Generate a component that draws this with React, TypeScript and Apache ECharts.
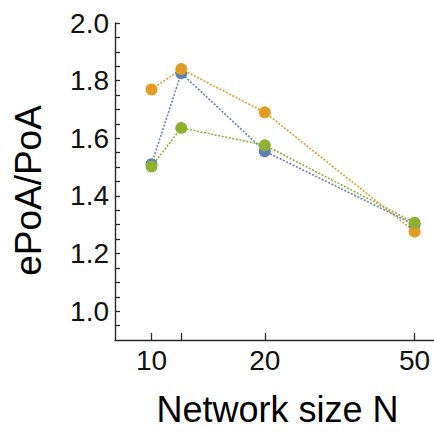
import React, { useEffect, useRef } from "react";
import * as echarts from "echarts";

const networkSizes = [10, 12, 20, 50];
const blueValues = [1.51, 1.826, 1.555, 1.30];
const orangeValues = [1.769, 1.84, 1.69, 1.276];
const greenValues = [1.502, 1.636, 1.576, 1.307];

const xTickValues = [10, 12, 20, 50];
const xLabelValues = [10, 20, 50];
const yLabelValues = [1.0, 1.2, 1.4, 1.6, 1.8, 2.0];
const yTickValues = [
  0.95, 1.0, 1.05, 1.1, 1.15, 1.2, 1.25, 1.3, 1.35, 1.4, 1.45, 1.5, 1.55,
  1.6, 1.65, 1.7, 1.75, 1.8, 1.85, 1.9, 1.95, 2.0,
];

const FONT = "'Liberation Sans', Arial, sans-serif";

function makeSeries(name: string, values: number[], color: string) {
  return {
    name,
    type: "line",
    data: networkSizes.map((n, i) => [n, values[i]]),
    symbol: "circle",
    symbolSize: 12,
    itemStyle: { color },
    lineStyle: { color, width: 1.6, type: [2, 1.6] },
    emphasis: { disabled: true },
  };
}

export default function App() {
  const ref = useRef<HTMLDivElement>(null);
  useEffect(() => {
    if (!ref.current) return;
    const chart = echarts.init(ref.current, null, { renderer: "svg" });
    chart.setOption({
      animation: false,
      backgroundColor: "#ffffff",
      grid: { left: 115, top: 23, width: 319, height: 328, containLabel: false },
      xAxis: {
        type: "log",
        logBase: 10,
        min: 8,
        max: 56.3,
        name: "Network size N",
        nameLocation: "middle",
        nameGap: 51,
        nameTextStyle: { fontSize: 36, color: "#000", fontFamily: FONT, padding: [0, 0, 0, 6] },
        axisLine: { show: true, lineStyle: { color: "#2a2a2a", width: 1.4 } },
        axisTick: {
          show: true,
          inside: true,
          length: 7,
          customValues: xTickValues,
          lineStyle: { color: "#2a2a2a", width: 1.3 },
        },
        axisLabel: {
          customValues: xLabelValues,
          fontSize: 28,
          color: "#111",
          fontFamily: FONT,
          margin: 6,
          formatter: (v: number) => String(Math.round(v)),
        },
        splitLine: { show: false },
        minorTick: { show: false },
      },
      yAxis: {
        type: "value",
        min: 0.9,
        max: 2.0,
        name: "ePoA/PoA",
        nameLocation: "middle",
        nameRotate: 90,
        nameGap: 68,
        nameTextStyle: { fontSize: 37, color: "#000", fontFamily: FONT, padding: [0, 18, 0, 0] },
        axisLine: { show: true, lineStyle: { color: "#2a2a2a", width: 1.4 } },
        axisTick: {
          show: true,
          inside: true,
          length: 5,
          customValues: yTickValues,
          lineStyle: { color: "#2a2a2a", width: 1.3 },
        },
        axisLabel: {
          customValues: yLabelValues,
          fontSize: 28,
          color: "#111",
          fontFamily: FONT,
          margin: 6,
          formatter: (v: number) => v.toFixed(1),
        },
        splitLine: { show: false },
      },
      series: [
        makeSeries("blue", blueValues, "#5E81B5"),
        makeSeries("orange", orangeValues, "#E19C24"),
        makeSeries("green", greenValues, "#8FB131"),
      ],
    });
    return () => chart.dispose();
  }, []);
  return (
    <div
      ref={ref}
      style={{ position: "fixed", left: 0, top: 0, width: 434, height: 432 }}
    />
  );
}
